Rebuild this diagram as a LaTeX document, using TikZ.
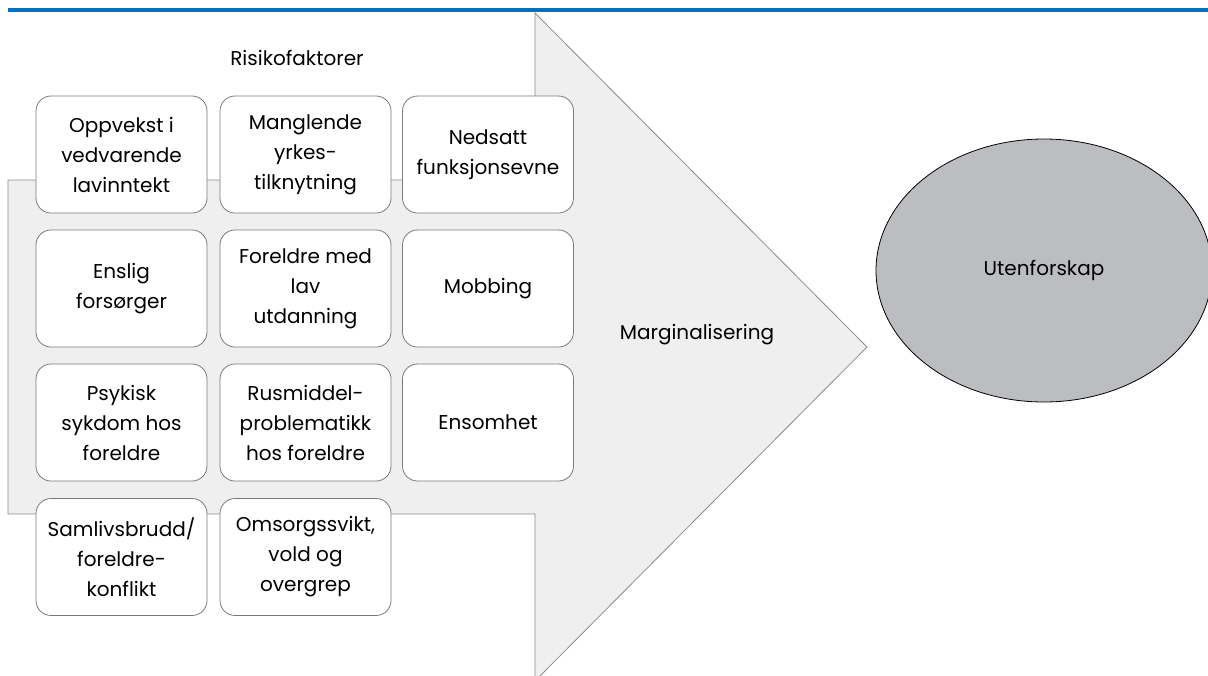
\documentclass[tikz,border=0pt]{standalone}
\usepackage{fontspec}
\setmainfont{Poppins}
\usetikzlibrary{shapes.geometric}
\definecolor{topblue}{HTML}{0070C0}
\definecolor{arrowfill}{HTML}{EFEFEF}
\definecolor{arrowline}{HTML}{8C8C8C}
\definecolor{boxline}{HTML}{7A7A7A}
\definecolor{ellfill}{HTML}{BCBDC0}
\begin{document}
\begin{tikzpicture}[x=1pt,y=-1pt,
  factor/.style={draw=boxline, line width=0.8pt, fill=white, rounded corners=15pt,
    minimum width=171pt, minimum height=117pt, inner sep=0pt, align=center,
    font=\fontsize{20}{30}\selectfont},
  label/.style={font=\fontsize{20}{30}\selectfont, inner sep=0pt}]
\useasboundingbox (0,0) rectangle (1208,675);
% top rule
\coordinate (ruleL) at (8,10);
\coordinate (ruleR) at (1208,10);
\draw[topblue, line width=4pt] (ruleL) -- (ruleR);
% big arrow
\draw[fill=arrowfill, draw=arrowline, line width=0.8pt]
  (8,180) -- (535,180) -- (535,13) -- (867,347) -- (535,681) -- (535,514) -- (8,514) -- cycle;
\node[label] (title) at (297,58) {Risikofaktorer};
% factor boxes
\node[factor] (b1) at (121.5,154.5) {Oppvekst i\\vedvarende\\lavinntekt};
\node[factor] (b2) at (305.5,154.5) {Manglende\\yrkes-\\tilknytning};
\node[factor] (b3) at (488,154.5) {Nedsatt\\funksjonsevne};
\node[factor] (b4) at (121.5,288.5) {Enslig\\forsørger};
\node[factor] (b5) at (305.5,288.5) {Foreldre med\\lav\\utdanning};
\node[factor] (b6) at (488,288.5) {Mobbing};
\node[factor] (b7) at (121.5,422.5) {Psykisk\\sykdom hos\\foreldre};
\node[factor] (b8) at (305.5,422.5) {Rusmiddel-\\problematikk\\hos foreldre};
\node[factor] (b9) at (488,422.5) {Ensomhet};
\node[factor] (b10) at (121.5,557) {Samlivsbrudd/\\foreldre-\\konflikt};
\node[factor] (b11) at (305.5,557) {Omsorgssvikt,\\vold og\\overgrep};
\node[label] (marg) at (697,335) {Marginalisering};
% outcome
\node[ellipse, draw=black, line width=0.8pt, fill=ellfill, minimum width=336pt,
  minimum height=263pt, inner sep=0pt, font=\fontsize{20}{30}\selectfont] (ut) at (1044,270.5) {Utenforskap};
\end{tikzpicture}
\end{document}
